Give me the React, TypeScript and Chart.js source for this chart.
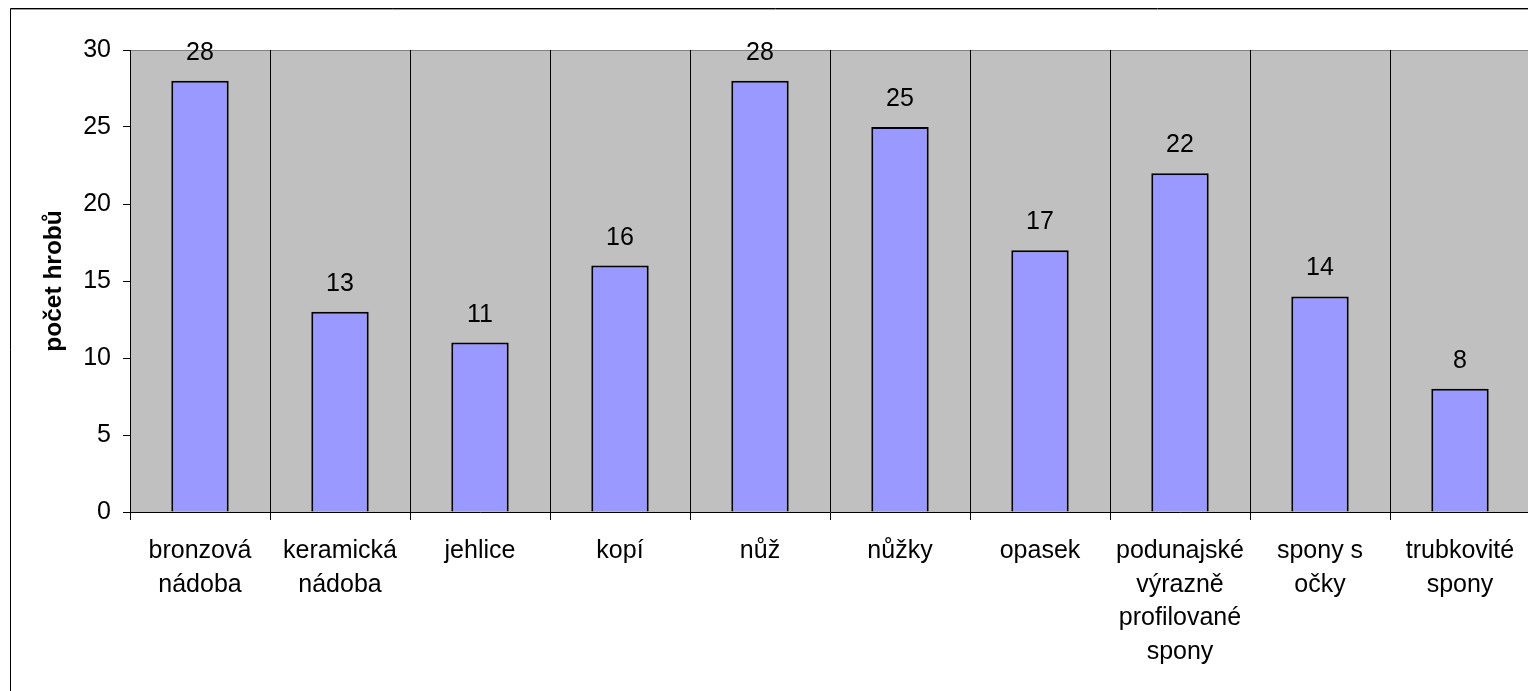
import React, { useEffect, useRef } from "react";
import { Chart, registerables } from "chart.js";

Chart.register(...registerables);

const categories: string[][] = [
  ["bronzová", "nádoba"],
  ["keramická", "nádoba"],
  ["jehlice"],
  ["kopí"],
  ["nůž"],
  ["nůžky"],
  ["opasek"],
  ["podunajské", "výrazně", "profilované", "spony"],
  ["spony s", "očky"],
  ["trubkovité", "spony"],
];
const values: number[] = [28, 13, 11, 16, 28, 25, 17, 22, 14, 8];
const yTicks: number[] = [0, 5, 10, 15, 20, 25, 30];
const yTitle = "počet hrobů";

const FONT = "'Liberation Sans', Arial, sans-serif";
const W = 1540;
const H = 691;

const bgPlugin = {
  id: "plotBg",
  beforeDraw(chart: any) {
    const { ctx, chartArea } = chart;
    ctx.save();
    ctx.fillStyle = "#C0C0C0";
    ctx.fillRect(chartArea.left, chartArea.top, chartArea.right - chartArea.left, chartArea.bottom - chartArea.top);
    ctx.strokeStyle = "#808080";
    ctx.lineWidth = 1;
    ctx.beginPath();
    ctx.moveTo(chartArea.left, Math.round(chartArea.top) + 0.5);
    ctx.lineTo(chartArea.right, Math.round(chartArea.top) + 0.5);
    ctx.stroke();
    ctx.restore();
  },
  afterDraw(chart: any) {
    const { ctx } = chart;
    ctx.save();
    ctx.strokeStyle = "#000";
    ctx.lineWidth = 1;
    ctx.beginPath();
    ctx.moveTo(10.5, H);
    ctx.lineTo(10.5, 8.5);
    ctx.lineTo(W, 8.5);
    ctx.stroke();
    ctx.strokeStyle = "#9a9a9a";
    ctx.beginPath();
    ctx.moveTo(11, 9.5);
    ctx.lineTo(W, 9.5);
    ctx.stroke();
    ctx.restore();
  },
};

const labelPlugin = {
  id: "barLabels",
  afterDatasetsDraw(chart: any) {
    const { ctx } = chart;
    const meta = chart.getDatasetMeta(0);
    ctx.save();
    ctx.fillStyle = "#000";
    ctx.font = `25px ${FONT}`;
    ctx.textAlign = "center";
    ctx.textBaseline = "alphabetic";
    meta.data.forEach((bar: any, i: number) => {
      ctx.fillText(String(values[i]), bar.x, bar.y - 21);
    });
    ctx.restore();
  },
};

export default function App() {
  const ref = useRef<HTMLCanvasElement | null>(null);
  useEffect(() => {
    if (!ref.current) return;
    const chart = new Chart(ref.current, {
      type: "bar",
      data: {
        labels: categories,
        datasets: [
          {
            data: values,
            backgroundColor: "#9999FF",
            borderColor: "#000000",
            borderWidth: 2,
            categoryPercentage: 1,
            barPercentage: 0.41,
          },
        ],
      },
      options: {
        animation: false,
        responsive: false,
        devicePixelRatio: 1,
        layout: { padding: { left: 0, top: 50, right: 10, bottom: 0 } },
        plugins: {
          legend: { display: false },
          tooltip: { enabled: false },
        },
        scales: {
          x: {
            offset: true,
            grid: {
              display: true,
              offset: true,
              color: "#000",
              lineWidth: 1,
              drawOnChartArea: true,
              drawTicks: true,
              tickLength: 8,
              tickColor: "#000",
            },
            border: { display: true, color: "#000", width: 1 },
            ticks: {
              color: "#000",
              font: { family: FONT, size: 25, lineHeight: 1.35 },
              padding: 14,
              maxRotation: 0,
              minRotation: 0,
              autoSkip: false,
            },
            afterFit(scale: any) {
              scale.height = 179;
              scale.paddingLeft = 0;
              scale.paddingRight = 0;
            },
          },
          y: {
            min: 0,
            max: 30,
            afterBuildTicks(scale: any) {
              scale.ticks = yTicks.map((v) => ({ value: v }));
            },
            grid: {
              display: true,
              drawOnChartArea: false,
              drawTicks: true,
              tickLength: 7,
              color: "#000",
              tickColor: "#000",
            },
            border: { display: true, color: "#000", width: 1 },
            ticks: {
              color: "#000",
              font: { family: FONT, size: 25 },
              padding: 12,
            },
            title: {
              display: true,
              text: yTitle,
              color: "#000",
              font: { family: FONT, size: 24.5, weight: "bold", lineHeight: 1.2 },
              padding: { top: 40, bottom: 0 },
            },
            afterFit(scale: any) {
              scale.width = 130;
            },
          },
        },
      },
      plugins: [bgPlugin, labelPlugin],
    });
    return () => chart.destroy();
  }, []);

  return (
    <div
      style={{
        position: "fixed",
        left: 0,
        top: 0,
        width: 1528,
        height: 691,
        overflow: "hidden",
        background: "#fff",
      }}
    >
      <canvas ref={ref} width={W} height={H} style={{ width: W, height: H, display: "block" }} />
    </div>
  );
}
